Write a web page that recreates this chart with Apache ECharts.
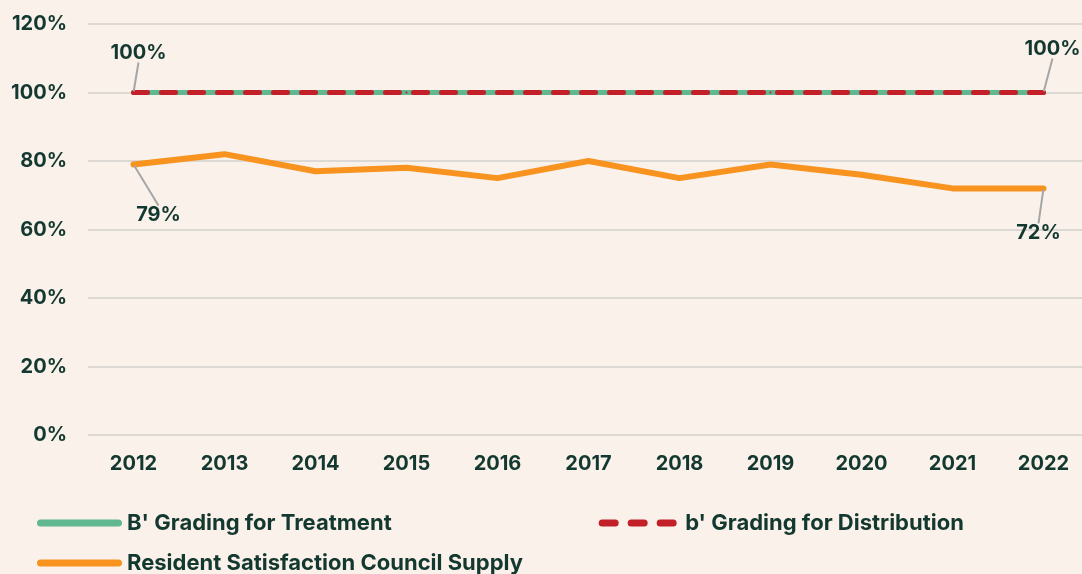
<!DOCTYPE html>
<html>
<head>
<meta charset="utf-8">
<style>
  html, body { margin: 0; padding: 0; background: #faf1ea; }
  #chart { width: 1082px; height: 574px; }
</style>
<script src="https://cdn.jsdelivr.net/npm/echarts@6/dist/echarts.min.js"></script>
</head>
<body>
<div id="chart"></div>
<script>
var years = ['2012', '2013', '2014', '2015', '2016', '2017', '2018', '2019', '2020', '2021', '2022']
var treatment = [100, 100, 100, 100, 100, 100, 100, 100, 100, 100, 100]
var distribution = [100, 100, 100, 100, 100, 100, 100, 100, 100, 100, 100]
var satisfaction = [79, 82, 77, 78, 75, 80, 75, 79, 76, 72, 72]

var textColor = '#12382f'
var font = 'Inter'

// legend icons: one pill, and three pills for the dashed line
var pill = 'path://M3.5,0H81.5A3.5,3.5 0 0 1 81.5,7H3.5A3.5,3.5 0 0 1 3.5,0Z'
var dashes = 'path://M3.5,0H16.5A3.5,3.5 0 0 1 16.5,7H3.5A3.5,3.5 0 0 1 3.5,0Z' +
  'M32.5,0H45.5A3.5,3.5 0 0 1 45.5,7H32.5A3.5,3.5 0 0 1 32.5,0Z' +
  'M61.5,0H74.5A3.5,3.5 0 0 1 74.5,7H61.5A3.5,3.5 0 0 1 61.5,0Z'

// only first and last point get a label
function endLabels(arr) {
  return arr.map(function (v, i) {
    if (i === 0 || i === arr.length - 1) {
      return { value: v, label: { show: true }, labelLine: { show: true } }
    }
    return v
  })
}

var legendText = { color: textColor, fontSize: 22, fontWeight: 700, fontFamily: font }
var labelStyle = { position: 'inside', formatter: '{c}%', color: textColor, fontSize: 20, fontWeight: 700 }

var chart = echarts.init(document.getElementById('chart'))
chart.setOption({
  backgroundColor: '#faf1ea',
  textStyle: { fontFamily: font },
  grid: { left: 88, top: 24, right: -7, bottom: 139, containLabel: false, outerBoundsMode: 'none' },
  legend: [{
    data: [
      { name: "B' Grading for Treatment", icon: pill },
      { name: "b' Grading for Distribution", icon: dashes }
    ],
    left: 37, top: 512, padding: 0, itemWidth: 85, itemHeight: 7, itemGap: 207,
    textStyle: legendText
  }, {
    data: [{ name: 'Resident Satisfaction Council Supply', icon: pill }],
    left: 37, top: 552, padding: 0, itemWidth: 85, itemHeight: 7,
    textStyle: legendText
  }],
  xAxis: {
    type: 'category',
    data: years,
    axisLine: { show: false },
    axisTick: { show: false },
    axisLabel: { color: textColor, fontSize: 20, fontWeight: 700, margin: 19 }
  },
  yAxis: {
    type: 'value',
    min: 0, max: 120, interval: 20,
    axisLabel: { formatter: '{value}%', color: textColor, fontSize: 20, fontWeight: 700, margin: 21 },
    splitLine: { lineStyle: { color: '#dcd8d3', width: 2 } }
  },
  series: [{
    name: "B' Grading for Treatment",
    type: 'line',
    data: treatment,
    symbol: 'none',
    color: '#5fb88f',
    lineStyle: { width: 5, color: '#5fb88f', cap: 'round' }
  }, {
    name: "b' Grading for Distribution",
    type: 'line',
    data: endLabels(distribution),
    symbol: 'circle',
    symbolSize: 2,
    color: '#c21f28',
    lineStyle: { width: 5, color: '#c21f28', type: [14, 14], cap: 'round' },
    label: labelStyle,
    labelLine: { lineStyle: { color: '#a6a6a6', width: 2 } },
    labelLayout: function (p) {
      return p.dataIndex === 0 ? { dx: 5, dy: -40 } : { dx: 9, dy: -44 }
    }
  }, {
    name: 'Resident Satisfaction Council Supply',
    type: 'line',
    data: endLabels(satisfaction),
    symbol: 'circle',
    symbolSize: 2,
    color: '#f7931e',
    lineStyle: { width: 6, color: '#f7931e', cap: 'round' },
    label: labelStyle,
    labelLine: { lineStyle: { color: '#a6a6a6', width: 2 } },
    labelLayout: function (p) {
      return p.dataIndex === 0 ? { dx: 25, dy: 51 } : { dx: -5, dy: 45 }
    }
  }]
})
</script>
</body>
</html>
